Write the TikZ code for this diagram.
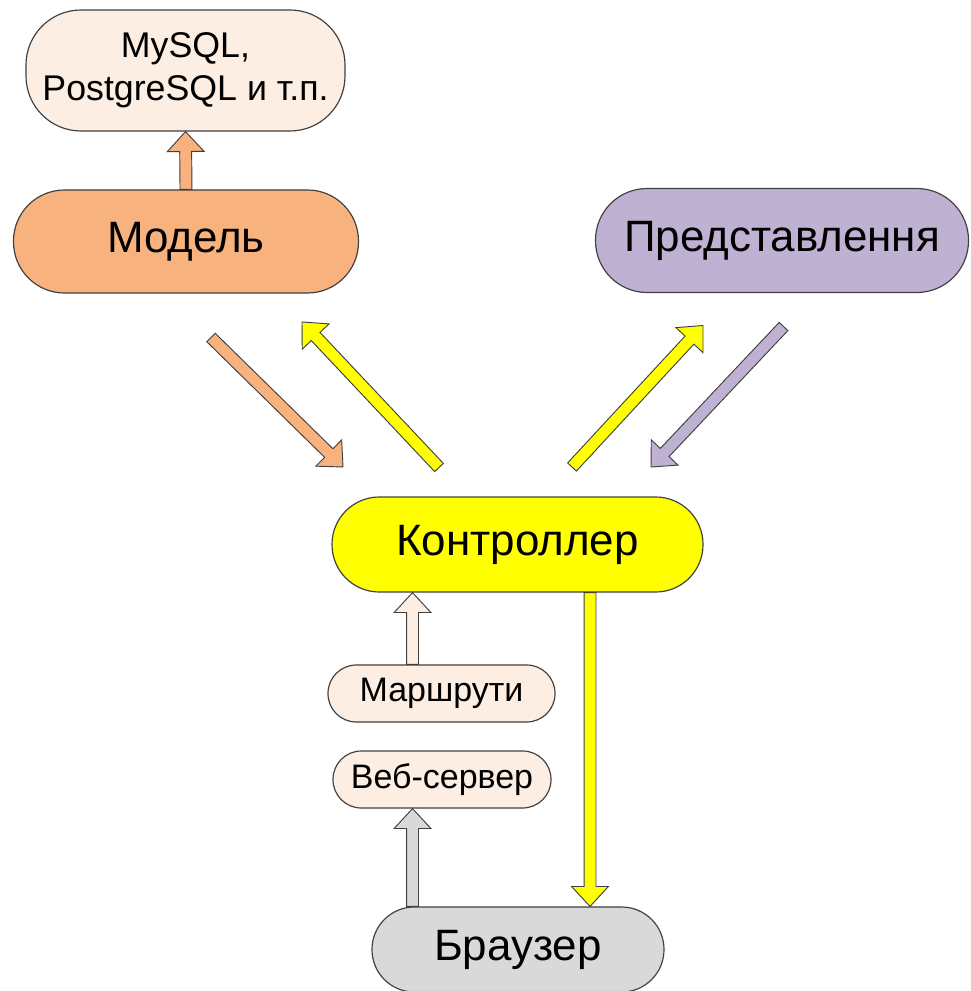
\documentclass[tikz,border=0pt]{standalone}
\usepackage{fontspec}
\setmainfont{Liberation Sans}
\definecolor{peach}{HTML}{FDEEE4}
\definecolor{orangeb}{HTML}{F7B27E}
\definecolor{lavender}{HTML}{BFB1D2}
\definecolor{yel}{HTML}{FFFF00}
\definecolor{greyb}{HTML}{D9D9D9}
\definecolor{edge}{HTML}{404040}
\newcommand{\blockarr}[3]{%
  \path (#2); \pgfgetlastxy{\bax}{\bay}%
  \path (#3); \pgfgetlastxy{\bbx}{\bby}%
  \pgfmathsetmacro\bang{atan2(\bby-\bay,\bbx-\bax)}%
  \pgfmathsetmacro\blen{veclen(\bbx-\bax,\bby-\bay)}%
  \pgfmathsetmacro\bneck{\blen-17}%
  \draw[arrowline, fill=#1, shift={(\bax,\bay)}, rotate=\bang]
    (0pt,-5.1pt) -- (\bneck pt,-5.1pt) -- (\bneck pt,-15.7pt) -- (\blen pt,0pt)
    -- (\bneck pt,15.7pt) -- (\bneck pt,5.1pt) -- (0pt,5.1pt) -- cycle;}
\tikzset{
  box/.style={draw=edge, line width=1pt, inner sep=0pt, align=center, text=black},
  bigtext/.style={font=\fontsize{37.5}{44}\selectfont},
  smalltext/.style={font=\fontsize{29}{34}\selectfont},
  dbtext/.style={font=\fontsize{30.5}{36.6}\selectfont},
  arrowline/.style={draw=edge, line width=0.8pt, line join=miter},
}
\begin{document}
\begin{tikzpicture}[x=0.03cm, y=-0.03cm]
\useasboundingbox (0,0) rectangle (970,991);
\clip (0,0) rectangle (970,991);
\fill[white] (0,0) rectangle (970,991);

\node[box, dbtext, fill=peach, minimum width=9.57cm, minimum height=3.63cm, rounded corners=1.65cm] (db) at (185.5,70.5) {MySQL,\\PostgreSQL и т.п.};
\node[box, bigtext, fill=orangeb, minimum width=10.35cm, minimum height=3.09cm, rounded corners=1.53cm] (model) at (186,241.5) {Модель};
\node[box, bigtext, fill=lavender, minimum width=11.19cm, minimum height=3.12cm, rounded corners=1.55cm] (view) at (782,240.5) {Представлення};
\node[box, bigtext, fill=yel, minimum width=11.13cm, minimum height=2.85cm, rounded corners=1.42cm] (ctrl) at (517.5,544.5) {Контроллер};
\node[box, smalltext, fill=peach, minimum width=6.81cm, minimum height=1.71cm, rounded corners=0.85cm] (routes) at (441.5,693.5) {Маршрути};
\node[box, smalltext, fill=peach, minimum width=6.54cm, minimum height=1.71cm, rounded corners=0.85cm] (web) at (442,779.5) {Веб-сервер};
\node[box, bigtext, fill=greyb, minimum width=8.76cm, minimum height=2.55cm, rounded corners=1.27cm] (browser) at (518,949.5) {Браузер};

\coordinate (xr) at (412.5,0);
\coordinate (xd) at (590,0);
\coordinate (o1) at (211,337.5);
\coordinate (o2) at (343,467);
\coordinate (y1) at (439,467.5);
\coordinate (y2) at (302,322);
\coordinate (y3) at (572,467);
\coordinate (y4) at (703,325.5);
\coordinate (l1) at (783.5,326.5);
\coordinate (l2) at (651,467);

\blockarr{orangeb}{model.north}{db.south}
\blockarr{orangeb}{o1}{o2}
\blockarr{yel}{y1}{y2}
\blockarr{yel}{y3}{y4}
\blockarr{lavender}{l1}{l2}
\blockarr{peach}{routes.north -| xr}{ctrl.south -| xr}
\blockarr{greyb}{browser.north -| xr}{web.south -| xr}
\blockarr{yel}{ctrl.south -| xd}{browser.north -| xd}
\end{tikzpicture}
\end{document}
